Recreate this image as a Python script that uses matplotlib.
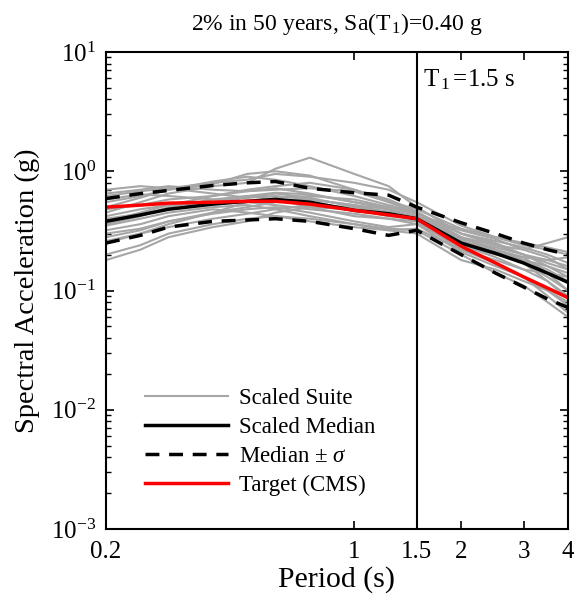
import matplotlib
matplotlib.use('Agg')
import matplotlib.pyplot as plt
from matplotlib.ticker import FixedLocator, NullFormatter, LogLocator

plt.rcParams['font.family'] = ['Liberation Serif', 'DejaVu Serif']
plt.rcParams['mathtext.fontset'] = 'custom'
plt.rcParams['mathtext.rm'] = 'Liberation Serif'
plt.rcParams['mathtext.it'] = 'Liberation Serif:italic'

# periods (s)
periods = [0.2, 0.25, 0.3, 0.4, 0.5, 0.6, 0.75, 1.0, 1.25, 1.5, 2.0, 2.5, 3.0, 3.5, 4.0]

# scaled ground motion suite (g)
suite = [
    [0.62, 0.68, 0.72, 0.80, 0.85, 0.95, 0.90, 0.80, 0.70, 0.55, 0.35, 0.28, 0.24, 0.22, 0.20],
    [0.20, 0.24, 0.30, 0.36, 0.40, 0.42, 0.40, 0.36, 0.33, 0.32, 0.20, 0.14, 0.11, 0.08, 0.06],
    [0.45, 0.55, 0.65, 0.75, 0.80, 1.05, 1.30, 0.95, 0.75, 0.50, 0.30, 0.25, 0.20, 0.17, 0.15],
    [0.30, 0.33, 0.38, 0.44, 0.48, 0.50, 0.45, 0.38, 0.34, 0.36, 0.24, 0.20, 0.18, 0.16, 0.14],
    [0.70, 0.75, 0.72, 0.65, 0.60, 0.62, 0.58, 0.52, 0.48, 0.42, 0.26, 0.22, 0.19, 0.14, 0.10],
    [0.25, 0.30, 0.36, 0.45, 0.55, 0.60, 0.62, 0.58, 0.50, 0.44, 0.28, 0.24, 0.22, 0.25, 0.28],
    [0.50, 0.60, 0.70, 0.82, 0.90, 0.85, 0.75, 0.62, 0.52, 0.45, 0.30, 0.24, 0.20, 0.16, 0.13],
    [0.35, 0.40, 0.45, 0.50, 0.52, 0.48, 0.42, 0.36, 0.32, 0.30, 0.18, 0.15, 0.12, 0.10, 0.08],
    [0.55, 0.62, 0.70, 0.78, 0.95, 1.00, 0.92, 0.70, 0.56, 0.48, 0.33, 0.28, 0.25, 0.23, 0.21],
    [0.28, 0.32, 0.38, 0.45, 0.50, 0.55, 0.58, 0.52, 0.45, 0.38, 0.22, 0.17, 0.13, 0.09, 0.065],
    [0.42, 0.48, 0.52, 0.55, 0.60, 0.65, 0.60, 0.50, 0.45, 0.42, 0.28, 0.22, 0.18, 0.15, 0.12],
    [0.18, 0.22, 0.28, 0.34, 0.38, 0.45, 0.50, 0.48, 0.42, 0.40, 0.26, 0.21, 0.17, 0.13, 0.10],
    [0.65, 0.70, 0.75, 0.70, 0.68, 0.72, 0.65, 0.55, 0.48, 0.40, 0.24, 0.19, 0.15, 0.12, 0.09],
    [0.38, 0.45, 0.52, 0.62, 0.68, 0.70, 0.72, 0.68, 0.55, 0.45, 0.30, 0.26, 0.23, 0.20, 0.17],
    [0.32, 0.36, 0.42, 0.48, 0.45, 0.42, 0.38, 0.34, 0.32, 0.33, 0.22, 0.18, 0.15, 0.14, 0.13],
    [0.48, 0.52, 0.58, 0.62, 0.70, 0.75, 0.80, 0.70, 0.58, 0.46, 0.28, 0.22, 0.17, 0.12, 0.085],
    [0.40, 0.44, 0.48, 0.55, 0.62, 0.58, 0.50, 0.42, 0.40, 0.38, 0.25, 0.21, 0.19, 0.18, 0.19],
    [0.58, 0.64, 0.62, 0.58, 0.55, 0.52, 0.48, 0.44, 0.40, 0.36, 0.21, 0.16, 0.13, 0.10, 0.075],
    [0.26, 0.30, 0.34, 0.40, 0.44, 0.48, 0.52, 0.50, 0.46, 0.42, 0.27, 0.23, 0.20, 0.18, 0.16],
    [0.36, 0.42, 0.50, 0.58, 0.62, 0.66, 0.64, 0.55, 0.50, 0.44, 0.32, 0.27, 0.22, 0.19, 0.15],
]

median = [0.38, 0.43, 0.48, 0.53, 0.56, 0.58, 0.55, 0.47, 0.44, 0.40, 0.25, 0.205, 0.17, 0.14, 0.117]
upper = [0.59, 0.65, 0.69, 0.76, 0.80, 0.82, 0.72, 0.66, 0.63, 0.50, 0.37, 0.30, 0.25, 0.22, 0.20]
lower = [0.25, 0.29, 0.34, 0.38, 0.39, 0.40, 0.38, 0.33, 0.29, 0.32, 0.20, 0.14, 0.107, 0.085, 0.072]
target = [0.50, 0.52, 0.54, 0.55, 0.56, 0.56, 0.53, 0.47, 0.43, 0.40, 0.235, 0.17, 0.13, 0.105, 0.087]

T1 = 1.5
xticks = [0.2, 1, 1.5, 2, 3, 4]
xticklabels = ['0.2', '1', '1.5', '2', '3', '4']

fig = plt.figure(figsize=(5.74, 6.07), dpi=100)
ax = fig.add_axes([106/574, 78/607, 462/574, 477/607])

gray = '#a6a6a6'
for i, rec in enumerate(suite):
    ax.plot(periods, rec, color=gray, lw=1.5, label='Scaled Suite' if i == 0 else None)
ax.plot(periods, median, color='black', lw=2.5, label='Scaled Median')
ax.plot(periods, upper, color='black', lw=2.5, ls=(0, (4, 2.8)), label=r'Median $\pm$ $\sigma$')
ax.plot(periods, lower, color='black', lw=2.5, ls=(0, (4, 2.8)))
ax.plot(periods, target, color='red', lw=2.5, label='Target (CMS)')
ax.axvline(T1, color='black', lw=1.5)

ax.set_xscale('log')
ax.set_yscale('log')
ax.set_xlim(0.2, 4)
ax.set_ylim(1e-3, 1e1)
ax.xaxis.set_major_locator(FixedLocator(xticks))
ax.set_xticklabels(xticklabels)
ax.xaxis.set_minor_locator(FixedLocator([]))
ax.yaxis.set_major_locator(LogLocator(base=10, numticks=10))
ax.yaxis.set_minor_locator(LogLocator(base=10, subs=range(2, 10), numticks=10))
ax.yaxis.set_minor_formatter(NullFormatter())
ax.tick_params(which='both', direction='in', top=True, right=True, labelsize=18)
ax.tick_params(axis='x', pad=9)
ax.tick_params(axis='y', pad=7)
ax.tick_params(which='major', length=6, width=1.2)
ax.tick_params(which='minor', length=3.5, width=1.0)
for s in ax.spines.values():
    s.set_linewidth(1.5)

ax.set_xlabel('Period (s)', fontsize=21.5, labelpad=2)
ax.set_ylabel('Spectral Acceleration (g)', fontsize=20.5, labelpad=8)
ax.set_title(r'2% in 50 years, Sa(T$_{\,\mathregular{1}}$)=0.40 g', fontsize=17, pad=16)
ax.text(1.56, 5.1, r'T$_{\,\mathregular{1}}\,$=1.5 s', fontsize=18, ha='left', va='baseline')

ax.legend(loc='lower left', bbox_to_anchor=(0.065, 0.05), frameon=False, fontsize=16.5,
          handlelength=3.6, handletextpad=0.5, labelspacing=0.35, borderaxespad=0)

fig.savefig('out.png', dpi=100, facecolor='white')
